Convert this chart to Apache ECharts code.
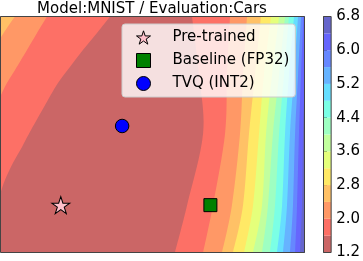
<!DOCTYPE html>
<html><head><meta charset="utf-8">
<script src="https://cdn.jsdelivr.net/npm/echarts@6/dist/echarts.min.js"></script>
<style>html,body{margin:0;padding:0;background:#fff}#c{width:363px;height:261px}</style>
</head><body><div id="c"></div>
<script>
// ---------------- data ----------------
const titleText = 'Model:MNIST / Evaluation:Cars';
const levels = [1.2, 1.6, 2.0, 2.4, 2.8, 3.2, 3.6, 4.0, 4.4, 4.8, 5.2, 5.6, 6.0, 6.4, 6.8];
const colorbarTicks = [1.2, 2.0, 2.8, 3.6, 4.4, 5.2, 6.0, 6.8];

// plane extent (data units)
const xMin = -0.403, xMax = 1.629, yMin = -0.317, yMax = 1.263;

// right-side contour lines: x position of each level at shared y samples
const rightSampleY = [1.263, 0.87, 0.48, 0.0, -0.317];
const rightLevels = [1.6, 2.0, 2.4, 2.8, 3.2, 3.6, 4.0, 4.4, 4.8, 5.2, 5.6, 6.0, 6.4];
const rightLineX = [
  [0.877, 0.924, 0.951, 0.844, 0.763],
  [1.131, 1.111, 1.098, 1.017, 0.951],
  [1.245, 1.218, 1.198, 1.144, 1.078],
  [1.338, 1.298, 1.258, 1.218, 1.151],
  [1.405, 1.358, 1.325, 1.285, 1.225],
  [1.459, 1.412, 1.372, 1.345, 1.285],
  [1.499, 1.459, 1.418, 1.385, 1.345],
  [1.525, 1.492, 1.459, 1.432, 1.398],
  [1.559, 1.525, 1.499, 1.479, 1.445],
  [1.586, 1.559, 1.532, 1.512, 1.485],
  [1.606, 1.586, 1.566, 1.552, 1.532],
  [1.622, 1.606, 1.592, 1.579, 1.566],
  [1.639, 1.632, 1.619, 1.612, 1.599]
];

// upper-left contour lines (top edge -> left edge)
const leftLevels = [1.6, 2.0, 2.4];
const leftLine16 = [[0.329,1.263],[0.242,1.153],[0.148,1.039],[0.061,0.925],[-0.019,0.818],[-0.086,0.704],[-0.199,0.503],[-0.259,0.390],[-0.320,0.282],[-0.373,0.169],[-0.403,0.082]];
const leftLine20 = [[-0.092,1.263],[-0.159,1.153],[-0.226,1.039],[-0.306,0.905],[-0.360,0.818],[-0.403,0.731]];
const leftLine24 = [[-0.306,1.263],[-0.360,1.186],[-0.403,1.119]];

// points
const seriesNames = ['Pre-trained', 'Baseline (FP32)', 'TVQ (INT2)'];
const pretrained = [[0, 0]];
const baseline = [[1, 0]];
const tvq = [[0.41, 0.53]];

// ---------------- styling helpers ----------------
const jetR = [[0,0],[0.35,0],[0.66,1],[0.89,1],[1,0.5]];
const jetG = [[0,0],[0.125,0],[0.375,1],[0.64,1],[0.91,0],[1,0]];
const jetB = [[0,0.5],[0.11,1],[0.34,1],[0.65,0],[1,0]];
function seg(s, x) {
  for (let i = 1; i < s.length; i++) {
    if (x <= s[i][0]) { const t = (x - s[i-1][0]) / (s[i][0] - s[i-1][0]); return s[i-1][1] + t * (s[i][1] - s[i-1][1]); }
  }
  return s[s.length-1][1];
}
function bandColor(i) {
  const x = 1 - (i + 0.5) / (levels.length - 1); // jet_r
  const a = 0.6;
  const c = [jetR, jetG, jetB].map(s => Math.round(255 * (a * seg(s, x) + 1 - a)));
  return 'rgb(' + c.join(',') + ')';
}
function catmull(p) {
  let d = 'M' + p[0][0] + ',' + p[0][1];
  for (let i = 0; i < p.length - 1; i++) {
    const p0 = p[i-1] || p[i], p1 = p[i], p2 = p[i+1], p3 = p[i+2] || p2;
    const c1 = [p1[0] + (p2[0]-p0[0])/6, p1[1] + (p2[1]-p0[1])/6];
    const c2 = [p2[0] - (p3[0]-p1[0])/6, p2[1] - (p3[1]-p1[1])/6];
    d += ' C' + c1[0] + ',' + c1[1] + ' ' + c2[0] + ',' + c2[1] + ' ' + p2[0] + ',' + p2[1];
  }
  return d;
}

const regions = [];
[leftLine16, leftLine20, leftLine24].forEach((line, j) =>
  regions.push({ side: 'left', pts: line, color: bandColor(levels.indexOf(leftLevels[j])) }));
rightLevels.forEach((lv, j) =>
  regions.push({ side: 'right', pts: rightSampleY.map((y, k) => [rightLineX[j][k], y]), color: bandColor(levels.indexOf(lv)) }));

const FONT = 'DejaVu Sans';
const starPath = 'path://M0,-1L0.2245,-0.309L0.951,-0.309L0.363,0.118L0.588,0.809L0,0.382L-0.588,0.809L-0.363,0.118L-0.951,-0.309L-0.2245,-0.309Z';

const chart = echarts.init(document.getElementById('c'), null, { renderer: 'canvas' });
chart.setOption({
  animation: false,
  backgroundColor: '#fff',
  title: {
    text: titleText, left: 152, top: 2, padding: 0, textAlign: 'center',
    textStyle: { fontFamily: FONT, fontSize: 15, fontWeight: 'normal', color: '#000' }
  },
  legend: {
    left: 122, top: 24, orient: 'vertical', padding: [5, 6, 5, 14], itemGap: 6,
    itemWidth: 14, itemHeight: 14, selectedMode: false,
    backgroundColor: 'rgba(255,255,255,0.8)', borderColor: '#cccccc', borderWidth: 1, borderRadius: 3,
    itemStyle: { borderWidth: 1, borderColor: '#000' },
    textStyle: { fontFamily: FONT, fontSize: 15, color: '#000', lineHeight: 17, padding: [0, 0, 0, 17] },
    data: [
      { name: seriesNames[0], icon: starPath },
      { name: seriesNames[1], icon: 'rect' },
      { name: seriesNames[2], icon: 'circle' }
    ]
  },
  grid: [
    { left: 0.5, top: 16.5, width: 304, height: 236, show: true, backgroundColor: bandColor(0), borderWidth: 0 },
    { left: 323.5, top: 16.5, width: 12, height: 236, show: false }
  ],
  xAxis: [
    { type: 'value', gridIndex: 0, min: xMin, max: xMax, show: false },
    { type: 'value', gridIndex: 1, min: 0, max: 1, show: false }
  ],
  yAxis: [
    { type: 'value', gridIndex: 0, min: yMin, max: yMax, show: false },
    {
      type: 'value', gridIndex: 1, min: levels[0], max: levels[levels.length - 1], position: 'right',
      axisLine: { show: false }, splitLine: { show: false },
      axisTick: { show: true, length: 3.5, customValues: colorbarTicks, lineStyle: { color: '#000', width: 1 } },
      axisLabel: { show: true, customValues: colorbarTicks, margin: 5, fontFamily: FONT, fontSize: 15, color: '#000',
        formatter: v => Number(v).toFixed(1) }
    }
  ],
  series: [
    {
      type: 'custom', xAxisIndex: 0, yAxisIndex: 0, clip: true, silent: true, z: 1,
      data: regions.map((r, i) => [i, 0]),
      renderItem(params, api) {
        const r = regions[params.dataIndex];
        const px = r.pts.map(p => api.coord(p));
        let d = catmull(px);
        const first = r.pts[0], last = r.pts[r.pts.length - 1];
        let extra;
        if (r.side === 'right') {
          extra = [[last[0], yMin - 0.2], [xMax + 0.2, yMin - 0.2], [xMax + 0.2, yMax + 0.2], [first[0], yMax + 0.2]];
        } else {
          extra = [[xMin - 0.2, last[1]], [xMin - 0.2, yMax + 0.2], [first[0], yMax + 0.2]];
        }
        extra.forEach(p => { const c = api.coord(p); d += ' L' + c[0] + ',' + c[1]; });
        d += ' Z';
        return { type: 'path', shape: { pathData: d }, style: { fill: r.color, stroke: null } };
      }
    },
    {
      type: 'custom', xAxisIndex: 0, yAxisIndex: 0, clip: false, silent: true, z: 3,
      data: [[0, 0]],
      renderItem(params, api) {
        const a = api.coord([xMin, yMax]), b = api.coord([xMax, yMin]);
        return { type: 'rect', shape: { x: a[0], y: a[1], width: b[0] - a[0], height: b[1] - a[1] },
          style: { fill: 'none', stroke: '#444', lineWidth: 1 } };
      }
    },
    {
      type: 'custom', xAxisIndex: 1, yAxisIndex: 1, clip: false, silent: true, z: 1,
      data: levels.slice(0, -1).map((v, i) => [i, v]),
      renderItem(params, api) {
        const i = params.dataIndex;
        const a = api.coord([0, levels[i + 1]]), b = api.coord([1, levels[i]]);
        return { type: 'rect', shape: { x: a[0], y: a[1], width: b[0] - a[0], height: b[1] - a[1] },
          style: { fill: bandColor(i), stroke: null } };
      }
    },
    {
      type: 'custom', xAxisIndex: 1, yAxisIndex: 1, clip: false, silent: true, z: 3,
      data: [[0, levels[0]]],
      renderItem(params, api) {
        const a = api.coord([0, levels[levels.length - 1]]), b = api.coord([1, levels[0]]);
        return { type: 'rect', shape: { x: a[0], y: a[1], width: b[0] - a[0], height: b[1] - a[1] },
          style: { fill: 'none', stroke: '#444', lineWidth: 1 } };
      }
    },
    {
      name: seriesNames[0], type: 'scatter', xAxisIndex: 0, yAxisIndex: 0, z: 5,
      symbol: starPath, symbolSize: [18, 17], data: pretrained,
      itemStyle: { color: '#FFC0CB', borderColor: '#000', borderWidth: 1, opacity: 1 }
    },
    {
      name: seriesNames[1], type: 'scatter', xAxisIndex: 0, yAxisIndex: 0, z: 5,
      symbol: 'rect', symbolSize: 13, data: baseline,
      itemStyle: { color: '#008000', borderColor: '#000', borderWidth: 1, opacity: 1 }
    },
    {
      name: seriesNames[2], type: 'scatter', xAxisIndex: 0, yAxisIndex: 0, z: 5,
      symbol: 'circle', symbolSize: 13.5, data: tvq,
      itemStyle: { color: '#0000FF', borderColor: '#000', borderWidth: 1, opacity: 1 }
    }
  ]
});
</script>
</body></html>
